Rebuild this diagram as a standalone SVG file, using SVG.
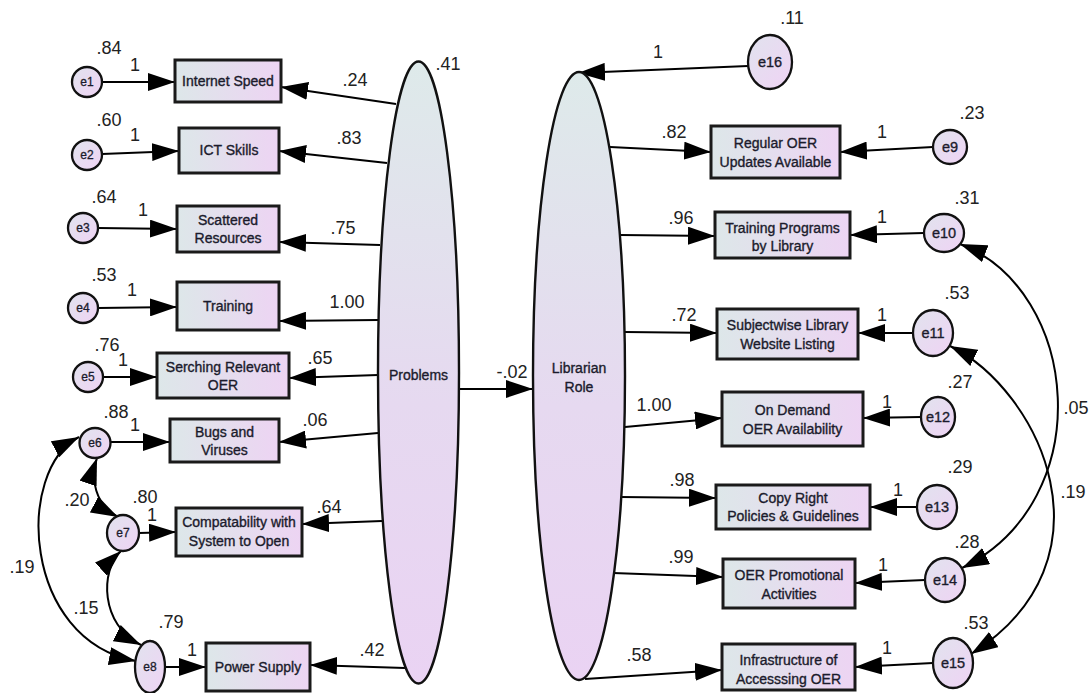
<svg xmlns="http://www.w3.org/2000/svg" width="1092" height="693" viewBox="0 0 1092 693">
  <defs>
    <linearGradient id="boxFill" x1="0" y1="0" x2="1" y2="0">
      <stop offset="0" stop-color="#dde7e9"/>
      <stop offset="1" stop-color="#edd4f3"/>
    </linearGradient>
    <linearGradient id="latFill" x1="0" y1="0" x2="0" y2="1">
      <stop offset="0" stop-color="#deeaea"/>
      <stop offset="0.55" stop-color="#e6d9f0"/>
      <stop offset="1" stop-color="#ead3f3"/>
    </linearGradient>
    <linearGradient id="errFill" x1="0" y1="0" x2="1" y2="1">
      <stop offset="0" stop-color="#e1e3ee"/>
      <stop offset="1" stop-color="#efd3f4"/>
    </linearGradient>
    <marker id="head" markerUnits="userSpaceOnUse" markerWidth="28" markerHeight="18" refX="27" refY="9" orient="auto-start-reverse">
      <path d="M0,0 L27,9 L0,18 Z" fill="#000"/>
    </marker>
  </defs>
  <style>
    .box { fill: url(#boxFill); stroke: #1a1a1a; stroke-width: 3; }
    .lat { fill: url(#latFill); stroke: #111; stroke-width: 2.4; }
    .err { fill: url(#errFill); stroke: #111; stroke-width: 2.3; }
    .lbl { font-family: "Liberation Sans", Arial, sans-serif; font-size: 14px; fill: #1b1b2c; stroke: #1b1b2c; stroke-width: 0.35; text-anchor: middle; }
    .elbl { font-family: "Liberation Sans", Arial, sans-serif; font-size: 12px; fill: #1b1b2c; stroke: #1b1b2c; stroke-width: 0.3; text-anchor: middle; }
    .elbl2 { font-family: "Liberation Sans", Arial, sans-serif; font-size: 14.5px; fill: #1b1b2c; stroke: #1b1b2c; stroke-width: 0.35; text-anchor: middle; }
    .num { font-family: "Liberation Sans", Arial, sans-serif; font-size: 18px; fill: #222; text-anchor: middle; }
    .arr { fill: none; stroke: #000; stroke-width: 2; marker-end: url(#head); }
    .cov { fill: none; stroke: #000; stroke-width: 2; marker-start: url(#head); marker-end: url(#head); }
  </style>
  <rect width="1092" height="693" fill="#fff"/>

  <!-- connectors -->
  <g id="connectors">
    <!-- Problems loadings -->
    <path class="arr" d="M396,104 L281,87"/>
    <path class="arr" d="M387,163 L279,151"/>
    <path class="arr" d="M380,245 L279,242"/>
    <path class="arr" d="M378,320 L279,321"/>
    <path class="arr" d="M378,375 L289,378"/>
    <path class="arr" d="M378,433 L279,442"/>
    <path class="arr" d="M382,521 L302,524"/>
    <path class="arr" d="M405,668 L310,665"/>
    <!-- left error terms -->
    <path class="arr" d="M103,82 L175,82"/>
    <path class="arr" d="M102,154 L179,151"/>
    <path class="arr" d="M98,228 L177,229"/>
    <path class="arr" d="M98,308 L177,307"/>
    <path class="arr" d="M103,377 L157,377"/>
    <path class="arr" d="M110,442 L170,442"/>
    <path class="arr" d="M139,533 L176,532"/>
    <path class="arr" d="M165,667 L206,667"/>
    <!-- left covariances -->
    <path class="cov" d="M97,458 C90,478 95,505 118,517"/>
    <path class="cov" d="M121,551 C100,570 100,625 141,645"/>
    <path class="cov" d="M79,437 C15,470 22,640 136,661"/>
    <!-- structural path -->
    <path class="arr" d="M459,389 L533,389"/>
    <!-- Librarian Role loadings -->
    <path class="arr" d="M610,147 L711,152"/>
    <path class="arr" d="M620,235 L715,236"/>
    <path class="arr" d="M625,332 L717,333"/>
    <path class="arr" d="M625,427 L722,418"/>
    <path class="arr" d="M620,497 L716,498"/>
    <path class="arr" d="M613,573 L723,577"/>
    <path class="arr" d="M585,679 L722,670"/>
    <!-- right error terms -->
    <path class="arr" d="M748,66 L578,73"/>
    <path class="arr" d="M933,147 L840,152"/>
    <path class="arr" d="M924,233 L850,235"/>
    <path class="arr" d="M913,333 L858,333"/>
    <path class="arr" d="M921,417 L863,418"/>
    <path class="arr" d="M917,507 L870,507"/>
    <path class="arr" d="M925,580 L855,583"/>
    <path class="arr" d="M933,663 L855,667"/>
    <!-- right covariances -->
    <path class="cov" d="M960,244 C1080,290 1100,500 962,568"/>
    <path class="cov" d="M950,346 C1040,390 1120,560 971,654"/>
  </g>

  <!-- latent variables -->
  <g id="problems">
    <ellipse class="lat" cx="418.5" cy="372.5" rx="40.5" ry="311"/>
    <text class="lbl" x="418.5" y="380">Problems</text>
  </g>
  <g id="librarian-role">
    <ellipse class="lat" cx="579" cy="376" rx="46" ry="304"/>
    <text class="lbl" x="579" y="373">Librarian</text>
    <text class="lbl" x="579" y="392">Role</text>
  </g>

  <!-- observed variables: Problems -->
  <g id="internet-speed"><rect class="box" x="175" y="60" width="106" height="42"/><text class="lbl" x="228" y="86">Internet Speed</text></g>
  <g id="ict-skills"><rect class="box" x="179" y="128" width="100" height="45"/><text class="lbl" x="229" y="155">ICT Skills</text></g>
  <g id="scattered-resources"><rect class="box" x="177" y="206" width="102" height="46"/><text class="lbl" x="228" y="225">Scattered</text><text class="lbl" x="228" y="243">Resources</text></g>
  <g id="training"><rect class="box" x="177" y="282" width="102" height="48"/><text class="lbl" x="228" y="311">Training</text></g>
  <g id="searching-oer"><rect class="box" x="157" y="353" width="132" height="45"/><text class="lbl" x="223" y="372">Serching Relevant</text><text class="lbl" x="223" y="390">OER</text></g>
  <g id="bugs-viruses"><rect class="box" x="170" y="419" width="109" height="43"/><text class="lbl" x="224.5" y="437">Bugs and</text><text class="lbl" x="224.5" y="455">Viruses</text></g>
  <g id="compatability"><rect class="box" x="176" y="508" width="126" height="48"/><text class="lbl" x="239" y="527">Compatability with</text><text class="lbl" x="239" y="546">System to Open</text></g>
  <g id="power-supply"><rect class="box" x="206" y="643" width="104" height="48"/><text class="lbl" x="258" y="672">Power Supply</text></g>

  <!-- observed variables: Librarian Role -->
  <g id="regular-oer"><rect class="box" x="711" y="126" width="129" height="52"/><text class="lbl" x="775.5" y="148">Regular OER</text><text class="lbl" x="775.5" y="167">Updates Available</text></g>
  <g id="training-programs"><rect class="box" x="715" y="212" width="135" height="46"/><text class="lbl" x="782.5" y="233">Training Programs</text><text class="lbl" x="782.5" y="251">by Library</text></g>
  <g id="subjectwise"><rect class="box" x="717" y="309" width="141" height="50"/><text class="lbl" x="787.5" y="330">Subjectwise Library</text><text class="lbl" x="787.5" y="349">Website Listing</text></g>
  <g id="on-demand"><rect class="box" x="722" y="392" width="141" height="54"/><text class="lbl" x="792.5" y="415">On Demand</text><text class="lbl" x="792.5" y="434">OER Availability</text></g>
  <g id="copy-right"><rect class="box" x="716" y="485" width="154" height="44"/><text class="lbl" x="793" y="503">Copy Right</text><text class="lbl" x="793" y="521">Policies &amp; Guidelines</text></g>
  <g id="oer-promotional"><rect class="box" x="723" y="559" width="132" height="49"/><text class="lbl" x="789" y="580">OER Promotional</text><text class="lbl" x="789" y="599">Activities</text></g>
  <g id="infrastructure"><rect class="box" x="722" y="644" width="133" height="46"/><text class="lbl" x="788.5" y="665">Infrastructure of</text><text class="lbl" x="788.5" y="684">Accesssing OER</text></g>

  <!-- error terms -->
  <g id="e1"><circle class="err" cx="87" cy="82" r="15"/><text class="elbl" x="87" y="86">e1</text></g>
  <g id="e2"><circle class="err" cx="87" cy="155" r="15"/><text class="elbl" x="87" y="159">e2</text></g>
  <g id="e3"><circle class="err" cx="83" cy="228" r="15"/><text class="elbl" x="83" y="232">e3</text></g>
  <g id="e4"><circle class="err" cx="83" cy="308" r="15"/><text class="elbl" x="83" y="312">e4</text></g>
  <g id="e5"><circle class="err" cx="88" cy="377" r="15"/><text class="elbl" x="88" y="381">e5</text></g>
  <g id="e6"><ellipse class="err" cx="95" cy="443" rx="15.5" ry="15"/><text class="elbl" x="95" y="447">e6</text></g>
  <g id="e7"><ellipse class="err" cx="123" cy="533" rx="16" ry="18"/><text class="elbl" x="123" y="537">e7</text></g>
  <g id="e8"><ellipse class="err" cx="150" cy="667" rx="15" ry="26"/><text class="elbl" x="150" y="671">e8</text></g>
  <g id="e16"><ellipse class="err" cx="770" cy="62" rx="22" ry="27"/><text class="elbl2" x="770" y="67">e16</text></g>
  <g id="e9"><circle class="err" cx="950" cy="147" r="17"/><text class="elbl2" x="950" y="152">e9</text></g>
  <g id="e10"><ellipse class="err" cx="944" cy="233" rx="20" ry="19"/><text class="elbl2" x="944" y="238">e10</text></g>
  <g id="e11"><ellipse class="err" cx="933" cy="333" rx="20" ry="23"/><text class="elbl2" x="933" y="338">e11</text></g>
  <g id="e12"><ellipse class="err" cx="938" cy="417" rx="17" ry="20"/><text class="elbl2" x="938" y="422">e12</text></g>
  <g id="e13"><ellipse class="err" cx="937" cy="507" rx="20" ry="22"/><text class="elbl2" x="937" y="512">e13</text></g>
  <g id="e14"><ellipse class="err" cx="945" cy="580" rx="20" ry="22"/><text class="elbl2" x="945" y="585">e14</text></g>
  <g id="e15"><ellipse class="err" cx="953" cy="663" rx="20" ry="25"/><text class="elbl2" x="953" y="668">e15</text></g>

  <!-- estimates -->
  <g id="estimates">
    <text class="num" x="448" y="70">.41</text>
    <text class="num" x="109" y="54">.84</text>
    <text class="num" x="135" y="71">1</text>
    <text class="num" x="355" y="86">.24</text>
    <text class="num" x="109" y="126">.60</text>
    <text class="num" x="135" y="141">1</text>
    <text class="num" x="349" y="144">.83</text>
    <text class="num" x="104" y="203">.64</text>
    <text class="num" x="143" y="216">1</text>
    <text class="num" x="343" y="234">.75</text>
    <text class="num" x="104" y="281">.53</text>
    <text class="num" x="132" y="296">1</text>
    <text class="num" x="347" y="308">1.00</text>
    <text class="num" x="107" y="351">.76</text>
    <text class="num" x="123" y="366">1</text>
    <text class="num" x="320" y="364">.65</text>
    <text class="num" x="116" y="418">.88</text>
    <text class="num" x="135" y="431">1</text>
    <text class="num" x="315" y="426">.06</text>
    <text class="num" x="77" y="506">.20</text>
    <text class="num" x="145" y="503">.80</text>
    <text class="num" x="152" y="521">1</text>
    <text class="num" x="329" y="513">.64</text>
    <text class="num" x="22" y="573">.19</text>
    <text class="num" x="86" y="614">.15</text>
    <text class="num" x="171" y="628">.79</text>
    <text class="num" x="192" y="656">1</text>
    <text class="num" x="372" y="656">.42</text>
    <text class="num" x="512" y="378">-.02</text>
    <text class="num" x="658" y="58">1</text>
    <text class="num" x="792" y="24">.11</text>
    <text class="num" x="674" y="138">.82</text>
    <text class="num" x="882" y="138">1</text>
    <text class="num" x="972" y="119">.23</text>
    <text class="num" x="681" y="224">.96</text>
    <text class="num" x="882" y="223">1</text>
    <text class="num" x="967" y="204">.31</text>
    <text class="num" x="684" y="321">.72</text>
    <text class="num" x="882" y="321">1</text>
    <text class="num" x="957" y="299">.53</text>
    <text class="num" x="654" y="411">1.00</text>
    <text class="num" x="887" y="408">1</text>
    <text class="num" x="960" y="388">.27</text>
    <text class="num" x="1076" y="414">.05</text>
    <text class="num" x="682" y="486">.98</text>
    <text class="num" x="960" y="473">.29</text>
    <text class="num" x="1073" y="498">.19</text>
    <text class="num" x="898" y="496">1</text>
    <text class="num" x="967" y="548">.28</text>
    <text class="num" x="681" y="563">.99</text>
    <text class="num" x="883" y="571">1</text>
    <text class="num" x="976" y="629">.53</text>
    <text class="num" x="887" y="654">1</text>
    <text class="num" x="639" y="661">.58</text>
  </g>
</svg>
